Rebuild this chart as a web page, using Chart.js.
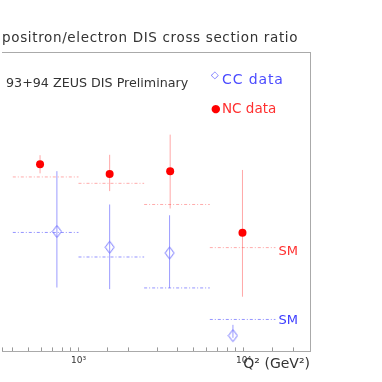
<!DOCTYPE html>
<html>
<head>
<meta charset="utf-8">
<script src="https://cdn.jsdelivr.net/npm/chart.js@4"></script>
<style>
  html, body { margin: 0; padding: 0; background: #fff; }
  #wrap { position: relative; width: 382px; height: 382px; overflow: hidden; font-family: "DejaVu Sans", sans-serif; }
  #wrap canvas { position: absolute; left: -6px; top: 0; }
  .txt { position: absolute; white-space: nowrap; line-height: 1; }
</style>
</head>
<body>
<div id="wrap">
  <canvas id="chart" width="388" height="382"></canvas>
  <div class="txt" style="left:2px; top:31px; font-size:13.5px; letter-spacing:0.65px; color:#333">positron/electron DIS cross section ratio</div>
  <div class="txt" style="left:6px; top:76.5px; font-size:12.7px; color:#333">93+94 ZEUS DIS Preliminary</div>
  <div class="txt" style="left:211px; top:70px; font-size:10px; color:#6a6aff">◇</div>
  <div class="txt" style="left:222px; top:71.5px; font-size:14px; letter-spacing:0.9px; color:#4b4bff">CC data</div>
  <div class="txt" style="left:211px; top:103px; font-size:11px; color:#ff0000">●</div>
  <div class="txt" style="left:222px; top:101.5px; font-size:13.5px; color:#ff3030">NC data</div>
</div>
<script>
// Q^2 bin edges (GeV^2)
const qBins = [400, 1000, 2500, 6250, 15625];

// NC positron/electron ratio
const ncQ = [585, 1545, 3595, 9860];
const ncRatio = [0.938, 0.889, 0.903, 0.594];
const ncErrHi = [0.983, 0.985, 1.086, 0.909];
const ncErrLo = [0.892, 0.803, 0.716, 0.274];
const ncSM = [0.874, 0.842, 0.736, 0.520];

// CC positron/electron ratio
const ccQ = [740, 1545, 3565, 8630];
const ccRatio = [0.601, 0.522, 0.493, 0.079];
const ccErrHi = [0.903, 0.736, 0.682, 0.133];
const ccErrLo = [0.320, 0.312, 0.318, 0.068];
const ccSM = [0.596, 0.473, 0.318, 0.160];

const xMin = 344, xMax = 25300;
const yMin = 0, yMax = 1.5;

function points(q, v) {
  return q.map((x, i) => ({ x, y: v[i] }));
}
function errorBars(q, lo, hi) {
  return q.flatMap((x, i) => [{ x, y: lo[i] }, { x, y: hi[i] }, { x, y: null }]);
}
function smSegments(vals) {
  return vals.flatMap((v, i) => [{ x: qBins[i], y: v }, { x: qBins[i + 1], y: v }, { x: qBins[i + 1], y: null }]);
}

function diamondImage() {
  const c = document.createElement('canvas');
  c.width = 11; c.height = 15;
  const g = c.getContext('2d');
  g.strokeStyle = '#7070ff';
  g.lineWidth = 1;
  g.beginPath();
  g.moveTo(5.5, 1.5); g.lineTo(10, 7.5); g.lineTo(5.5, 13.5); g.lineTo(1, 7.5);
  g.closePath();
  g.stroke();
  return c;
}

// "SM" labels at the right end of the last SM segment
const smLabels = {
  id: 'smLabels',
  afterDatasetsDraw(chart) {
    const { ctx, scales: { x, y } } = chart;
    const xe = x.getPixelForValue(qBins[qBins.length - 1]);
    ctx.save();
    ctx.font = '13px "DejaVu Sans"';
    ctx.textBaseline = 'middle';
    ctx.fillStyle = '#ff3030';
    ctx.fillText('SM', xe + 3, y.getPixelForValue(ncSM[ncSM.length - 1]) + 4);
    ctx.fillStyle = '#3c3cff';
    ctx.fillText('SM', xe + 3, y.getPixelForValue(ccSM[ccSM.length - 1]) + 1);
    ctx.restore();
  }
};

const line = { showLine: true, pointRadius: 0, borderWidth: 1, spanGaps: false };

new Chart(document.getElementById('chart'), {
  type: 'scatter',
  data: {
    datasets: [
      { data: points(ncQ, ncRatio), pointStyle: 'circle', pointRadius: 4, backgroundColor: '#ff0000', borderWidth: 0 },
      { data: points(ccQ, ccRatio), pointStyle: diamondImage(), pointRadius: 5 },
      { ...line, data: errorBars(ncQ, ncErrLo, ncErrHi), borderColor: 'rgba(255,60,60,0.45)' },
      { ...line, data: errorBars(ccQ, ccErrLo, ccErrHi), borderColor: 'rgba(90,90,255,0.6)' },
      { ...line, data: smSegments(ncSM), borderColor: 'rgba(255,90,90,0.5)', borderDash: [3, 2, 1, 2] },
      { ...line, data: smSegments(ccSM), borderColor: 'rgba(90,90,255,0.65)', borderDash: [3, 2, 1, 2] },
    ]
  },
  options: {
    responsive: false,
    animation: false,
    layout: { padding: { top: 52, right: 72, left: 0, bottom: 9 } },
    plugins: { legend: { display: false }, tooltip: { enabled: false } },
    scales: {
      x: {
        type: 'logarithmic', position: 'bottom', min: xMin, max: xMax,
        grid: { drawOnChartArea: false, tickLength: -4, color: '#999' },
        border: { color: '#aaa', width: 1 },
        ticks: {
          autoSkip: false, maxRotation: 0, padding: 8, color: '#333',
          font: { family: 'DejaVu Sans', size: 9 },
          callback: v => v === 1000 ? '10³' : v === 10000 ? '10⁴' : ''
        },
        title: {
          display: true, text: 'Q² (GeV²)', align: 'end', color: '#333',
          font: { family: 'DejaVu Sans', size: 14 }, padding: { top: -18, bottom: 0 }
        }
      },
      x2: {
        type: 'logarithmic', axis: 'x', position: 'top', min: xMin, max: xMax,
        ticks: { display: false }, grid: { display: false, drawTicks: false },
        border: { color: '#aaa', width: 1 }
      },
      y: {
        type: 'linear', position: 'right', min: yMin, max: yMax,
        ticks: { display: false }, grid: { display: false, drawTicks: false },
        border: { color: '#aaa', width: 1 }
      }
    }
  },
  plugins: [smLabels]
});
</script>
</body>
</html>
